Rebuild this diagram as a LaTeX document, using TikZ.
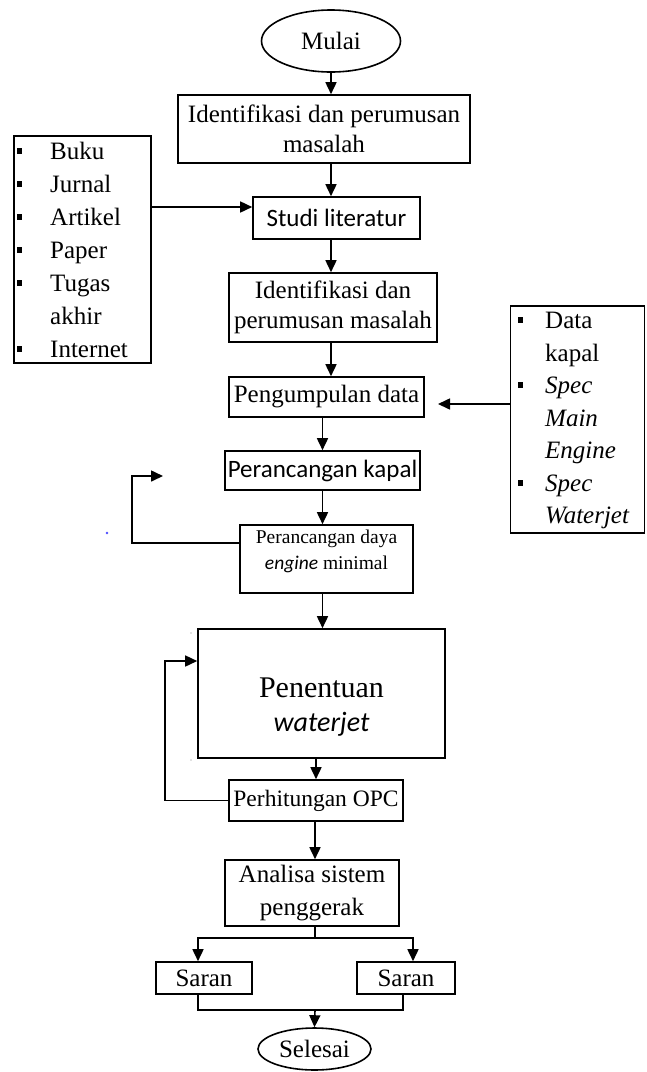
\documentclass[tikz,border=0pt]{standalone}
\usepackage{fontspec}
\setmainfont{Liberation Serif}
\newfontfamily\calfont{Carlito}
\usetikzlibrary{arrows.meta,shapes.geometric}
\begin{document}
\begin{tikzpicture}[x=1pt,y=-1pt,
  box/.style={draw, line width=1.6pt, rectangle, inner sep=0pt, align=center, font=\fontsize{25}{30}\selectfont},
  oval/.style={draw, line width=1.6pt, ellipse, inner sep=0pt, font=\fontsize{25}{30}\selectfont},
  arr/.style={line width=1.6pt, -{Triangle[length=12pt,width=11pt]}},
  ln/.style={line width=1.6pt},
  item/.style={anchor=base west, inner sep=0pt, font=\fontsize{25}{30}\selectfont},
  itemi/.style={item, font=\fontsize{25}{30}\selectfont\itshape},
  bul/.style={fill=black, minimum width=5pt, minimum height=6pt, inner sep=0pt}
]
\useasboundingbox (0,0) rectangle (646,1072);

% main boxes
\node[oval, minimum width=139pt, minimum height=62pt] (mulai) at (331,41) {Mulai};
\node[box, minimum width=292pt, minimum height=68pt] (idf1) at (324,129) {Identifikasi dan perumusan\\masalah};
\node[box, font=\calfont\fontsize{25}{28}\selectfont, minimum width=167pt, minimum height=42pt] (studi) at (336.5,218) {Studi literatur};
\node[box, minimum width=137pt, minimum height=227pt] (buku) at (82.5,249.5) {};
\node[box, minimum width=208pt, minimum height=69pt] (idf2) at (333,307.5) {Identifikasi dan\\perumusan masalah};
\node[box, minimum width=195pt, minimum height=40pt] (kumpul) at (326.5,397) {Pengumpulan data};
\node[box, minimum width=134pt, minimum height=227pt] (data) at (577.5,419.5) {};
\node[box, font=\calfont\fontsize{25}{28}\selectfont, minimum width=195pt, minimum height=39pt] (kapal) at (322.5,470.5) {Perancangan kapal};
\node[box, minimum width=173pt, minimum height=68pt] (daya) at (326.5,559) {};
\node[align=center, inner sep=0pt, font=\fontsize{19.5}{26}\selectfont] (dayat) at (326.5,551) {Perancangan daya\\{\calfont\itshape engine} minimal};
\node[box, minimum width=247pt, minimum height=129pt] (tentu) at (321.5,693.5) {};
\node[align=center, inner sep=0pt, font=\fontsize{30}{34}\selectfont] (tentut) at (321.5,707) {Penentuan\\{\calfont\itshape\fontsize{28}{34}\selectfont waterjet}};
\node[box, font=\fontsize{23.5}{30}\selectfont, minimum width=174pt, minimum height=41pt] (opc) at (316,800.5) {Perhitungan OPC};
\node[box, font=\fontsize{25}{33}\selectfont, minimum width=174pt, minimum height=66pt] (anal) at (312,893) {Analisa sistem\\penggerak};
\node[box, minimum width=96pt, minimum height=32pt] (saran1) at (204,978) {Saran};
\node[box, minimum width=98pt, minimum height=32pt] (saran2) at (406,978) {Saran};
\node[oval, minimum width=113pt, minimum height=42pt] (selesai) at (314.5,1049) {Selesai};

% left list
\node[bul] (bb1) at (19,151) {};
\node[item] (b1) at (50,159) {Buku};
\node[bul] (bb2) at (19,184) {};
\node[item] (b2) at (50,192) {Jurnal};
\node[bul] (bb3) at (19,217) {};
\node[item] (b3) at (50,225) {Artikel};
\node[bul] (bb4) at (19,250) {};
\node[item] (b4) at (50,258) {Paper};
\node[bul] (bb5) at (19,283) {};
\node[item] (b5) at (50,291) {Tugas};
\node[item] (b6) at (50,324) {akhir};
\node[bul] (bb7) at (19,349) {};
\node[item] (b7) at (50,357) {Internet};

% right list
\node[bul] (db1) at (520,320) {};
\node[item] (d1) at (545,328) {Data};
\node[item] (d2) at (545,361) {kapal};
\node[bul] (db3) at (520,385) {};
\node[itemi] (d3) at (545,393) {Spec};
\node[itemi] (d4) at (545,426) {Main};
\node[itemi] (d5) at (545,458) {Engine};
\node[bul] (db6) at (520,483) {};
\node[itemi] (d6) at (545,491) {Spec};
\node[itemi] (d7) at (545,523) {Waterjet};

% helper coordinates
\coordinate (ylit) at (0,207);
\coordinate (pin) at (438,404);
\coordinate (fbA) at (132,476);
\coordinate (fb1) at (163,476);
\coordinate (ydaya) at (0,543);
\coordinate (fbB) at (165,661);
\coordinate (split) at (315,938);
\coordinate (sL) at (198,938);
\coordinate (sR) at (413,938);
\coordinate (jR) at (403,0);
\coordinate (join) at (315,1010);

% connectors
\draw[arr] (mulai.south) -- (mulai.south |- idf1.north);
\draw[arr] (idf1.south -| mulai.south) -- (studi.north -| mulai.south);
\draw[arr] (studi.south -| mulai.south) -- (idf2.north -| mulai.south);
\draw[arr] (idf2.south -| mulai.south) -- (kumpul.north -| mulai.south);
\draw[arr] (buku.east |- ylit) -- (studi.west |- ylit);
\draw[arr] (data.west |- pin) -- (pin);
\draw[arr] (kumpul.south -| kapal) -- (kapal.north);
\draw[arr] (kapal.south) -- (daya.north -| kapal);
\draw[arr] (daya.south -| kapal) -- (tentu.north -| kapal);
\draw[arr] (daya.west |- ydaya) -| (fbA) -- (fb1);
\draw[arr] (tentu.south -| opc) -- (opc.north);
\draw[arr] (opc.west) -| (fbB) -- (tentu.west |- fbB);
\draw[arr] (opc.south -| split) -- (anal.north -| split);
\draw[ln] (anal.south -| split) -- (split);
\draw[arr] (split) -- (sL) -- (sL |- saran1.north);
\draw[arr] (split) -- (sR) -- (sR |- saran2.north);
\draw[ln] (saran1.south -| sL) |- (join);
\draw[ln] (saran2.south -| jR) |- (join);
\draw[arr] (join) -- (selesai.north);

% stray dots
\fill[blue!70] (107,533) circle (1.3pt);
\fill[gray] (191,633) circle (0.7pt);
\fill[gray] (191,760) circle (0.7pt);
\end{tikzpicture}
\end{document}
